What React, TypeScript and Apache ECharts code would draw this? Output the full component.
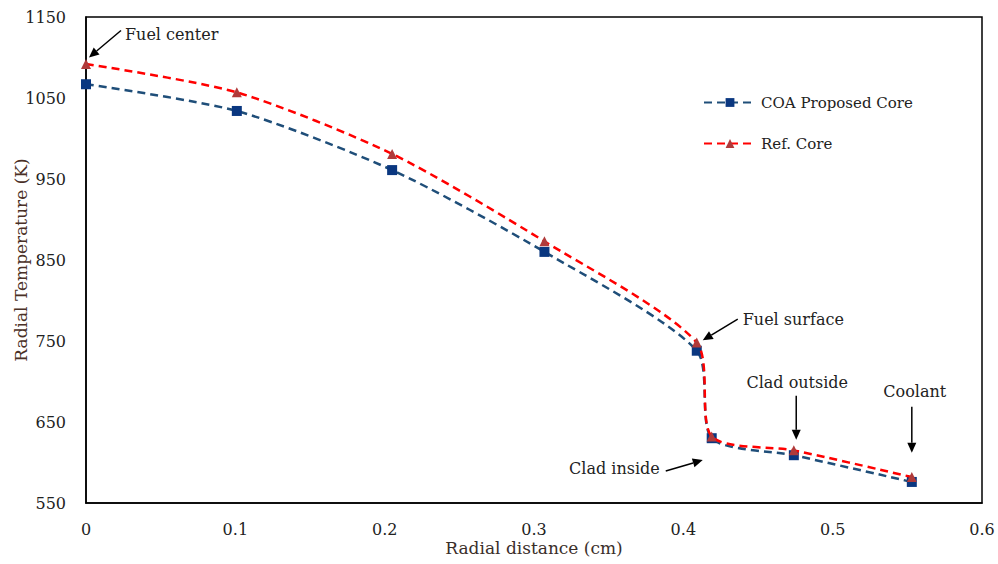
import React, { useEffect, useRef } from "react";
import * as echarts from "echarts";

const radialDistance = [0, 0.101, 0.205, 0.307, 0.409, 0.419, 0.474, 0.553];
const coaProposedCore = [1067, 1034, 961, 860, 738, 630, 609, 576];
const refCore = [1092, 1057, 981, 873, 748, 632, 615, 582];
const seriesNames = ["COA Proposed Core", "Ref. Core"];

// annotation: tip in data coords, tail/text offsets in px from tip
const annotations = [
  { text: "Fuel center", tip: [0.002, 1100], tail: [32, -27], label: [36, -23], align: "left" },
  { text: "Fuel surface", tip: [0.413, 751], tail: [35, -21], label: [40, -21], align: "left" },
  { text: "Clad outside", tip: [0.4756, 628], tail: [0, -44], label: [1, -57], align: "center" },
  { text: "Coolant", tip: [0.553, 612], tail: [0, -46], label: [3, -61], align: "center" },
  { text: "Clad inside", tip: [0.413, 603], tail: [-37, 11], label: [-43, 8], align: "right" },
];

const FONT = "DejaVu Serif";

export default function App() {
  const ref = useRef<HTMLDivElement>(null);
  useEffect(() => {
    const chart = echarts.init(ref.current!, null, { renderer: "svg" });
    const pairs = (ys: number[]) => radialDistance.map((x, i) => [x, ys[i]]);
    chart.setOption({
      animation: false,
      backgroundColor: "#fff",
      grid: {
        left: 86, right: 16, top: 17, bottom: 61,
        outerBoundsMode: "none", containLabel: false,
        show: true, borderColor: "#000", borderWidth: 1.5,
      },
      legend: {
        orient: "vertical",
        left: 698,
        top: 90,
        itemGap: 26,
        itemWidth: 52,
        itemHeight: 11,
        textStyle: { fontFamily: FONT, fontSize: 15, color: "#222" },
        data: seriesNames,
      },
      xAxis: {
        type: "value",
        min: 0,
        max: 0.6,
        interval: 0.1,
        name: "Radial distance (cm)",
        nameLocation: "middle",
        nameGap: 36,
        nameMoveOverlap: false,
        nameTextStyle: { fontFamily: FONT, fontSize: 17, color: "#3a2e2a" },
        axisLine: { show: true, lineStyle: { color: "#000", width: 1.5 } },
        axisTick: { show: false },
        splitLine: { show: false },
        axisLabel: { fontFamily: FONT, fontSize: 16, color: "#222", margin: 18 },
      },
      yAxis: {
        type: "value",
        min: 550,
        max: 1150,
        interval: 50,
        name: "Radial Temperature (K)",
        nameLocation: "middle",
        nameGap: 57,
        nameMoveOverlap: false,
        nameTextStyle: { fontFamily: FONT, fontSize: 17, color: "#4a3026" },
        axisLine: { show: true, lineStyle: { color: "#000", width: 1.5 } },
        axisTick: { show: false },
        splitLine: { show: false },
        axisLabel: {
          fontFamily: FONT,
          fontSize: 16,
          color: "#222",
          margin: 20,
          formatter: (v: number) => ((v - 550) % 100 === 0 ? String(v) : ""),
        },
      },
      series: [
        {
          name: seriesNames[0],
          type: "line",
          smooth: 0.25,
          data: pairs(coaProposedCore),
          symbol: "rect",
          symbolSize: 10,
          itemStyle: { color: "#0a3780" },
          lineStyle: { color: "#1f4e79", width: 2.5, type: [8, 5] },
          z: 2,
        },
        {
          name: seriesNames[1],
          type: "line",
          smooth: 0.25,
          data: pairs(refCore),
          symbol: "triangle",
          symbolSize: 10,
          itemStyle: { color: "#b03a3a" },
          lineStyle: { color: "#ff0000", width: 2.5, type: [8, 5] },
          z: 3,
        },
      ],
    });

    const graphics: any[] = [];
    annotations.forEach((a) => {
      const p = chart.convertToPixel({ gridIndex: 0 }, a.tip) as number[];
      const tip = p;
      const tail = [p[0] + a.tail[0], p[1] + a.tail[1]];
      const dx = tip[0] - tail[0];
      const dy = tip[1] - tail[1];
      const len = Math.sqrt(dx * dx + dy * dy);
      const ux = dx / len, uy = dy / len;
      const hl = 10, hw = 4.5;
      const base = [tip[0] - ux * hl, tip[1] - uy * hl];
      graphics.push({
        type: "line",
        shape: { x1: tail[0], y1: tail[1], x2: base[0], y2: base[1] },
        style: { stroke: "#000", lineWidth: 1.5 },
        silent: true,
      });
      graphics.push({
        type: "polygon",
        shape: {
          points: [
            tip,
            [base[0] - uy * hw, base[1] + ux * hw],
            [base[0] + uy * hw, base[1] - ux * hw],
          ],
        },
        style: { fill: "#000" },
        silent: true,
      });
      graphics.push({
        type: "text",
        x: p[0] + a.label[0],
        y: p[1] + a.label[1],
        style: {
          text: a.text,
          fontFamily: FONT,
          fontSize: 16,
          fill: "#222",
          align: a.align,
          verticalAlign: "middle",
        },
        silent: true,
      });
    });
    chart.setOption({ graphic: graphics });
    return () => chart.dispose();
  }, []);
  return (
    <div
      ref={ref}
      style={{ position: "fixed", left: 0, top: 0, width: 998, height: 564 }}
    />
  );
}
